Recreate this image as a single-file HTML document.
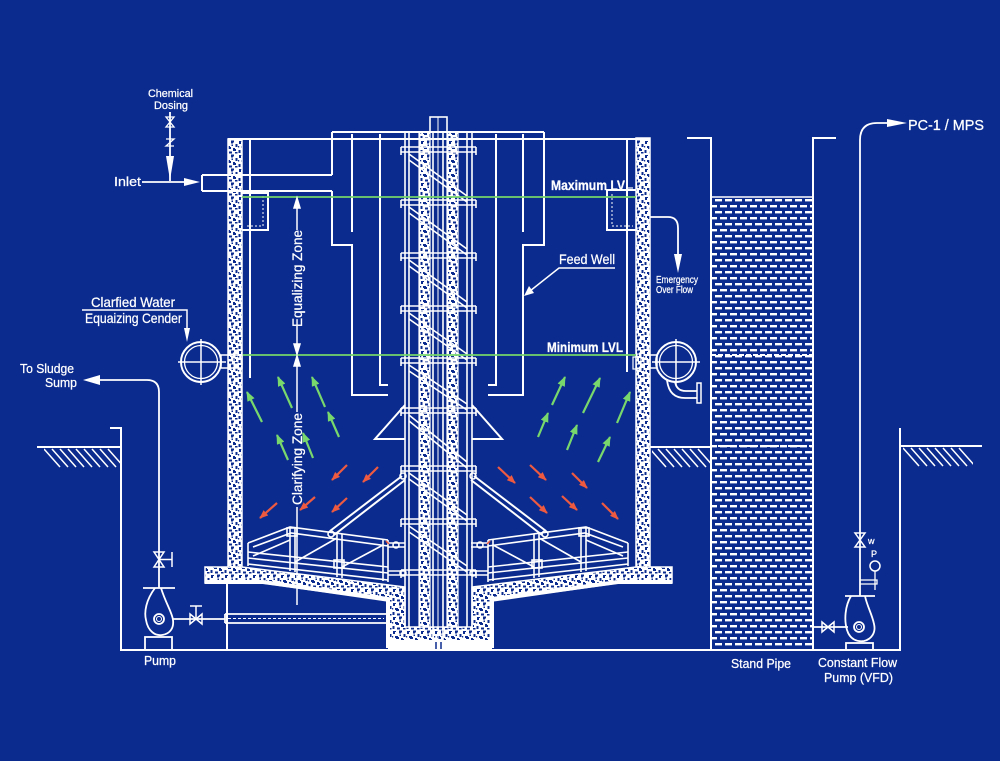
<!DOCTYPE html>
<html><head><meta charset="utf-8">
<style>
html,body{margin:0;padding:0;background:#0b2b8e;width:1000px;height:761px;overflow:hidden}
svg{display:block}
text{font-family:"Liberation Sans",Arial,sans-serif;fill:#fff;stroke:#fff;stroke-width:0.25}
</style></head><body>
<svg xmlns="http://www.w3.org/2000/svg" width="1000" height="761" viewBox="0 0 1000 761">
<defs>
<pattern id="c" width="14" height="14" patternUnits="userSpaceOnUse">
<rect width="14" height="14" fill="#fff"/>
<g fill="#0b2b8e">
<path d="M1,1 h3 v1 h-1 v2 h-2 z"/>
<path d="M7,0.5 h3 v2 h-1 v1 h-2 z"/>
<path d="M11.5,4 h2 v3 h-2 z"/>
<path d="M3,6 h3 v1 h1 v2 h-3 v-1 h-1 z"/>
<path d="M9,8 h2 v1 h1 v2 h-3 z"/>
<path d="M0.5,10 h2 v3 h-2 z"/>
<path d="M5,11.5 h3 v2 h-3 z"/>
<path d="M11,12 h2.5 v1.5 h-2.5 z"/>
<path d="M7.5,4.5 h1.5 v1.5 h-1.5 z"/>
<path d="M0,6 h1.2 v1.5 h-1.2 z"/>
</g>
</pattern>
<pattern id="w" width="10" height="12" patternUnits="userSpaceOnUse">
<rect x="0" y="1" width="7" height="2.4" fill="#fff"/>
<rect x="5" y="7" width="7" height="2.4" fill="#fff"/>
<rect x="-5" y="7" width="7" height="2.4" fill="#fff"/>
</pattern>
<marker id="g" viewBox="0 0 10 8" refX="9" refY="4" markerWidth="10" markerHeight="8" markerUnits="userSpaceOnUse" orient="auto"><path d="M0,0 L10,4 L0,8 z" fill="#79d86c"/></marker>
<marker id="r" viewBox="0 0 10 8" refX="9" refY="4" markerWidth="9" markerHeight="7" markerUnits="userSpaceOnUse" orient="auto"><path d="M0,0 L10,4 L0,8 z" fill="#ee5a40"/></marker>
<clipPath id="h1"><rect x="44" y="448" width="76" height="22"/></clipPath>
<clipPath id="h2"><rect x="652" y="447" width="58" height="22"/></clipPath>
<clipPath id="h3"><rect x="903" y="447" width="70" height="22"/></clipPath>
</defs>
<rect width="1000" height="761" fill="#0b2b8e"/>

<!-- concrete slab and pit -->
<path d="M205,567 H242 L405,587 V627 H472 V587 L636,567 H672 V583 L618,583 L492,601 V645 H388 V601 L263,583 H205 Z" fill="url(#c)" stroke="#fff" stroke-width="1.5"/>
<polyline points="205,582 263,582 388,599 388,646 492,646 492,599 618,582 672,582" fill="none" stroke="#fff" stroke-width="4"/>
<rect x="388" y="640" width="104" height="10" fill="#fff"/>
<path d="M436,642 V650 M441,642 V650" stroke="#0b2b8e" stroke-width="1.5"/>

<!-- walls -->
<rect x="228" y="139" width="14" height="428" fill="url(#c)" stroke="#fff" stroke-width="1.5"/>
<rect x="636" y="138" width="14" height="429" fill="url(#c)" stroke="#fff" stroke-width="1.5"/>

<!-- column strips -->
<rect x="419" y="132" width="11" height="495" fill="url(#c)" stroke="#fff" stroke-width="1.2"/>
<rect x="447" y="132" width="11" height="495" fill="url(#c)" stroke="#fff" stroke-width="1.2"/>

<g stroke="#fff" stroke-width="2" fill="none">
<path d="M228,139 H650"/>
<path d="M250,139 V378 M627,139 V372"/>
<path d="M332,132 H544"/>
<path d="M332,132 V175 M202,175 H332 M202,191 H332 M202,175 V191"/>
<path d="M332,191 V245 H352 V395 H388"/>
<path d="M352,134 V232 M380,134 V385 H388"/>
<path d="M544,132 V245 H523 V395 H488"/>
<path d="M523,134 V232 M496,134 V385 H488"/>
<path d="M242,193 H268 V230 H242"/>
<path d="M636,190 H607 V230 H636"/>
</g>
<g stroke="#fff" stroke-width="1" fill="none" stroke-dasharray="2 2">
<path d="M263,196 V226 H245"/>
<path d="M612,194 V226 H633"/>
</g>

<!-- column -->
<g stroke="#fff" stroke-width="1.6" fill="none">
<rect x="430" y="117" width="17" height="15"/>
<path d="M405,132 V627 M409,132 V627 M467,132 V627 M472,132 V627"/>
<path d="M433,132 V640 M443,132 V640"/>
<path d="M438,117 V640" stroke-width="1"/>
<path d="M401,147 H476 M401,152 H476 M401,147 V155 M476,147 V155
M401,200 H476 M401,205 H476 M401,200 V208 M476,200 V208
M401,253 H476 M401,258 H476 M401,253 V261 M476,253 V261
M401,306 H476 M401,311 H476 M401,306 V314 M476,306 V314
M401,358 H476 M401,363 H476 M401,358 V366 M476,358 V366
M401,408 H476 M401,413 H476 M401,408 V416 M476,408 V416
M401,466 H476 M401,471 H476 M401,466 V474 M476,466 V474
M401,519 H476 M401,524 H476 M401,519 V527 M476,519 V527
M401,570 H476 M401,575 H476 M401,570 V578 M476,570 V578"/>
<path d="M409,154 L467,196 M409,160 L467,202
M409,207 L467,249 M409,213 L467,255
M409,260 L467,302 M409,266 L467,308
M409,313 L467,354 M409,319 L467,360
M409,365 L467,404 M409,371 L467,410
M409,415 L467,462 M409,421 L467,468
M409,473 L467,515 M409,479 L467,521
M409,526 L467,566 M409,532 L467,572"/>
<path d="M405,405 L375,439 H405 M472,405 L502,439 H472" stroke-width="2"/>
</g>

<!-- rakes -->
<g stroke="#fff" stroke-width="1.6" fill="none">
<path d="M248,543 L290,527 L388,540"/>
<path d="M253,547 L291,533 L388,546"/>
<path d="M248,543 V566"/>
<path d="M248,552 L388,567 M248,558 L388,573 M248,564 L388,580"/>
<path d="M290,527 V571 M295,528 V572 M337,533 V577 M342,534 V578 M383,539 V581 M388,540 V582"/>
<path d="M295,562 L337,538 M342,567 L383,545 M253,556 L290,540"/>
<rect x="287" y="528" width="10" height="8"/>
<rect x="334" y="560" width="10" height="8"/>
<path d="M330,531 L402,476 M334,535 L405,480" stroke-width="2"/>
<circle cx="331" cy="534" r="3"/>
<path d="M388,543 H405 M388,547 H405 M388,571 H405 M388,575 H405"/>
<circle cx="396" cy="545" r="3"/>
<circle cx="403" cy="573" r="3"/>
<circle cx="403" cy="476" r="3"/>
</g>
<g transform="matrix(-1 0 0 1 876 0)" stroke="#fff" stroke-width="1.6" fill="none">
<path d="M248,543 L290,527 L388,540"/>
<path d="M253,547 L291,533 L388,546"/>
<path d="M248,543 V566"/>
<path d="M248,552 L388,567 M248,558 L388,573 M248,564 L388,580"/>
<path d="M290,527 V571 M295,528 V572 M337,533 V577 M342,534 V578 M383,539 V581 M388,540 V582"/>
<path d="M295,562 L337,538 M342,567 L383,545 M253,556 L290,540"/>
<rect x="287" y="528" width="10" height="8"/>
<rect x="334" y="560" width="10" height="8"/>
<path d="M330,531 L402,476 M334,535 L405,480" stroke-width="2"/>
<circle cx="331" cy="534" r="3"/>
<path d="M388,543 H405 M388,547 H405 M388,571 H405 M388,575 H405"/>
<circle cx="396" cy="545" r="3"/>
<circle cx="403" cy="573" r="3"/>
<circle cx="403" cy="476" r="3"/>
</g>
<path d="M386,541 l3,3 M490,541 l-3,3" stroke="#ee5a40" stroke-width="1.5"/>

<!-- level lines -->
<path d="M242,197 H636 M242,355 H636" stroke="#74d66a" stroke-width="1.8"/>

<!-- zone dimension lines -->
<g stroke="#fff" stroke-width="1.5" fill="#fff">
<path d="M297,207 V230 M297,326 V345 M297,365 V412 M297,507 V605" fill="none"/>
<polygon points="294,208 297,198 300,208"/>
<polygon points="294,344 297,354 300,344"/>
<polygon points="294,366 297,356 300,366"/>
</g>

<!-- flange circles -->
<g stroke="#fff" stroke-width="2" fill="none">
<circle cx="201" cy="362" r="20"/><circle cx="201" cy="362" r="16.5" stroke-width="1.3"/>
<path d="M178,362 H226 M201,339 V385" stroke-width="1.5"/>
<rect x="221" y="355" width="21" height="13" stroke-width="1.5"/>
<path d="M228,358 V366 M234,358 V366" stroke-width="1"/>
<circle cx="676" cy="362" r="20"/><circle cx="676" cy="362" r="16.5" stroke-width="1.3"/>
<path d="M652,362 H700 M676,339 V385" stroke-width="1.5"/>
<rect x="650" y="355" width="7" height="13" stroke-width="1.5"/>
<rect x="633" y="357" width="8" height="12" stroke-width="1.2"/>
<path d="M667,380 Q669,398 685,398 H697 M675,381 Q676,391 686,391 H697" stroke-width="1.8"/>
<rect x="697" y="383" width="4" height="20" stroke-width="1.5"/>
</g>

<!-- green arrows -->
<g stroke="#79d86c" stroke-width="2.2" marker-end="url(#g)">
<line x1="262" y1="422" x2="247" y2="392"/>
<line x1="292" y1="408" x2="278" y2="377"/>
<line x1="325" y1="407" x2="312" y2="377"/>
<line x1="288" y1="460" x2="277" y2="435"/>
<line x1="313" y1="458" x2="303" y2="433"/>
<line x1="339" y1="437" x2="328" y2="412"/>
<line x1="552" y1="405" x2="565" y2="377"/>
<line x1="583" y1="413" x2="600" y2="378"/>
<line x1="617" y1="423" x2="630" y2="392"/>
<line x1="538" y1="437" x2="548" y2="413"/>
<line x1="567" y1="450" x2="577" y2="425"/>
<line x1="598" y1="462" x2="610" y2="437"/>
</g>
<!-- red arrows -->
<g stroke="#ee5a40" stroke-width="2.2" marker-end="url(#r)">
<line x1="277" y1="503" x2="260" y2="518"/>
<line x1="315" y1="497" x2="300" y2="510"/>
<line x1="347" y1="465" x2="332" y2="480"/>
<line x1="347" y1="498" x2="332" y2="512"/>
<line x1="378" y1="467" x2="363" y2="482"/>
<line x1="498" y1="467" x2="515" y2="483"/>
<line x1="530" y1="465" x2="546" y2="480"/>
<line x1="572" y1="473" x2="587" y2="488"/>
<line x1="530" y1="497" x2="547" y2="513"/>
<line x1="562" y1="496" x2="577" y2="510"/>
<line x1="602" y1="503" x2="618" y2="519"/>
</g>

<!-- ground -->
<g stroke="#fff" stroke-width="2" fill="none">
<path d="M110,428 H121 V650 H900 V428"/>
<path d="M37,447 H121 M900,446 H982 M650,447 H711"/>
<path d="M227,583 V650"/>
</g>
<g stroke="#fff" stroke-width="1.5" clip-path="url(#h1)">
<path d="M44,449 l16,18 M52,449 l16,18 M60,449 l16,18 M68,449 l16,18 M76,449 l16,18 M84,449 l16,18 M92,449 l16,18 M100,449 l16,18 M108,449 l16,18"/>
</g>
<g stroke="#fff" stroke-width="1.5" clip-path="url(#h2)">
<path d="M650,449 l16,18 M658,449 l16,18 M666,449 l16,18 M674,449 l16,18 M682,449 l16,18 M690,449 l16,18 M698,449 l16,18"/>
</g>
<g stroke="#fff" stroke-width="1.5" clip-path="url(#h3)">
<path d="M903,448 l16,18 M911,448 l16,18 M919,448 l16,18 M927,448 l16,18 M935,448 l16,18 M943,448 l16,18 M951,448 l16,18 M959,448 l16,18"/>
</g>

<!-- stand pipe -->
<rect x="711" y="197" width="102" height="453" fill="url(#w)"/>
<g stroke="#fff" fill="none">
<path d="M687,138 H711 V650 M836,138 H813 V650" stroke-width="2"/>
<path d="M711,197 H813" stroke-width="1.5"/>
<path d="M711,355 H813 M711,446 H813" stroke-width="2" stroke-dasharray="5 2"/>
</g>

<!-- left pump & piping -->
<g stroke="#fff" stroke-width="1.8" fill="none">
<path d="M225,614 H386 M225,623 H386 M225,614 V623"/>
<path d="M228,618.5 H384" stroke-width="1" stroke-dasharray="3 2"/>
<path d="M173,619 H225"/>
<path d="M190,614 L202,624 V614 L190,624 Z" stroke-width="1.5"/>
<path d="M196,619 V606 M190,606 H202" stroke-width="1.5"/>
<path d="M143,588 H175"/>
<path d="M155,588 C146,600 144,612 146,620 C148,632 156,636 162,635 C170,634 174,628 173,620 C172,612 166,604 161,588"/>
<circle cx="159" cy="619" r="5"/><circle cx="159" cy="619" r="2.5" stroke-width="1"/>
<rect x="145" y="637" width="27" height="13"/>
<path d="M159,588 V392 Q159,380 147,380 H99"/>
<path d="M154,552 H164 L154,567 H164 Z" stroke-width="1.5"/>
<path d="M159,559.5 H172 M172,552 V567" stroke-width="1.5"/>
</g>
<polygon points="100,375 83,380 100,385" fill="#fff"/>

<!-- right pump & piping -->
<g stroke="#fff" stroke-width="1.8" fill="none">
<path d="M813,627 H848"/>
<path d="M822,622 L834,632 V622 L822,632 Z" stroke-width="1.5"/>
<path d="M845,596 H875"/>
<path d="M851,596 C845,606 844,620 847,630 C850,640 858,642 864,641 C872,639 876,632 874,624 C872,614 867,606 865,596"/>
<circle cx="859" cy="627" r="5"/><circle cx="859" cy="627" r="2.5" stroke-width="1"/>
<rect x="846" y="643" width="27" height="7"/>
<path d="M860,596 V140 Q860,123 877,123 H890"/>
<path d="M855,533 H865 L855,547 H865 Z" stroke-width="1.5"/>
<circle cx="875" cy="566" r="5" stroke-width="1.5"/>
<path d="M860,580 H877 V584 H860 M875,571 V590" stroke-width="1.3"/>
</g>
<polygon points="887,119 907,123 887,127" fill="#fff"/>

<!-- inlet / dosing -->
<g stroke="#fff" stroke-width="1.8" fill="none">
<path d="M170,112 V181 M142,182 H186"/>
<path d="M166,117 H174 L166,127 H174 Z" stroke-width="1.3"/>
<path d="M166,139 H174 L166,146 H174" stroke-width="1.3"/>
</g>
<polygon points="166,156 174,156 170,180" fill="#fff"/>
<polygon points="184,178 200,182 184,186" fill="#fff"/>

<!-- emergency overflow -->
<path d="M650,217 H668 Q678,217 678,228 V256" stroke="#fff" stroke-width="1.8" fill="none"/>
<polygon points="674,254 678,273 682,254" fill="#fff"/>

<!-- clarified water leader -->
<path d="M82,310 H187 V330" stroke="#fff" stroke-width="1.5" fill="none"/>
<polygon points="184,328 187,342 190,328" fill="#fff"/>

<!-- feed well leader -->
<path d="M615,268 H559 L530,291" stroke="#fff" stroke-width="1.5" fill="none"/>
<polygon points="524,296 529,286 534,293" fill="#fff"/>
<path d="M627,188 H633" stroke="#fff" stroke-width="1.2"/>

<!-- text -->
<text x="148" y="97" font-size="11" textLength="45" lengthAdjust="spacingAndGlyphs">Chemical</text>
<text x="154" y="109" font-size="11" textLength="34" lengthAdjust="spacingAndGlyphs">Dosing</text>
<text x="114" y="186" font-size="13" textLength="27" lengthAdjust="spacingAndGlyphs">Inlet</text>
<text x="91" y="307" font-size="14" textLength="84" lengthAdjust="spacingAndGlyphs">Clarfied Water</text>
<text x="85" y="323" font-size="14" textLength="97" lengthAdjust="spacingAndGlyphs">Equaizing Cender</text>
<text x="20" y="373" font-size="13" textLength="54" lengthAdjust="spacingAndGlyphs">To Sludge</text>
<text x="45" y="387" font-size="13" textLength="32" lengthAdjust="spacingAndGlyphs">Sump</text>
<text x="144" y="665" font-size="13" textLength="32" lengthAdjust="spacingAndGlyphs">Pump</text>
<text x="731" y="668" font-size="13" textLength="60" lengthAdjust="spacingAndGlyphs">Stand Pipe</text>
<text x="818" y="667" font-size="13" textLength="79" lengthAdjust="spacingAndGlyphs">Constant Flow</text>
<text x="824" y="682" font-size="13" textLength="69" lengthAdjust="spacingAndGlyphs">Pump (VFD)</text>
<text x="908" y="130" font-size="15" textLength="76" lengthAdjust="spacingAndGlyphs">PC-1 / MPS</text>
<text x="551" y="190" font-size="13.5" font-weight="bold" textLength="74" lengthAdjust="spacingAndGlyphs">Maximum LV</text>
<text x="559" y="264" font-size="13.5" textLength="56" lengthAdjust="spacingAndGlyphs">Feed Well</text>
<text x="656" y="283" font-size="10" textLength="42" lengthAdjust="spacingAndGlyphs" stroke-width="0">Emergency</text>
<text x="656" y="293" font-size="10" textLength="37" lengthAdjust="spacingAndGlyphs" stroke-width="0">Over Flow</text>
<text x="547" y="352" font-size="13.5" font-weight="bold" textLength="76" lengthAdjust="spacingAndGlyphs">Minimum LVL</text>
<text transform="translate(302,327) rotate(-90)" font-size="13.5" textLength="97" lengthAdjust="spacingAndGlyphs">Equalizing Zone</text>
<text transform="translate(302,505) rotate(-90)" font-size="13.5" textLength="92" lengthAdjust="spacingAndGlyphs">Clarifying Zone</text>
<text x="868" y="544" font-size="9" stroke-width="0">w</text>
<text x="871" y="557" font-size="9" stroke-width="0">P</text>
</svg>
</body></html>
